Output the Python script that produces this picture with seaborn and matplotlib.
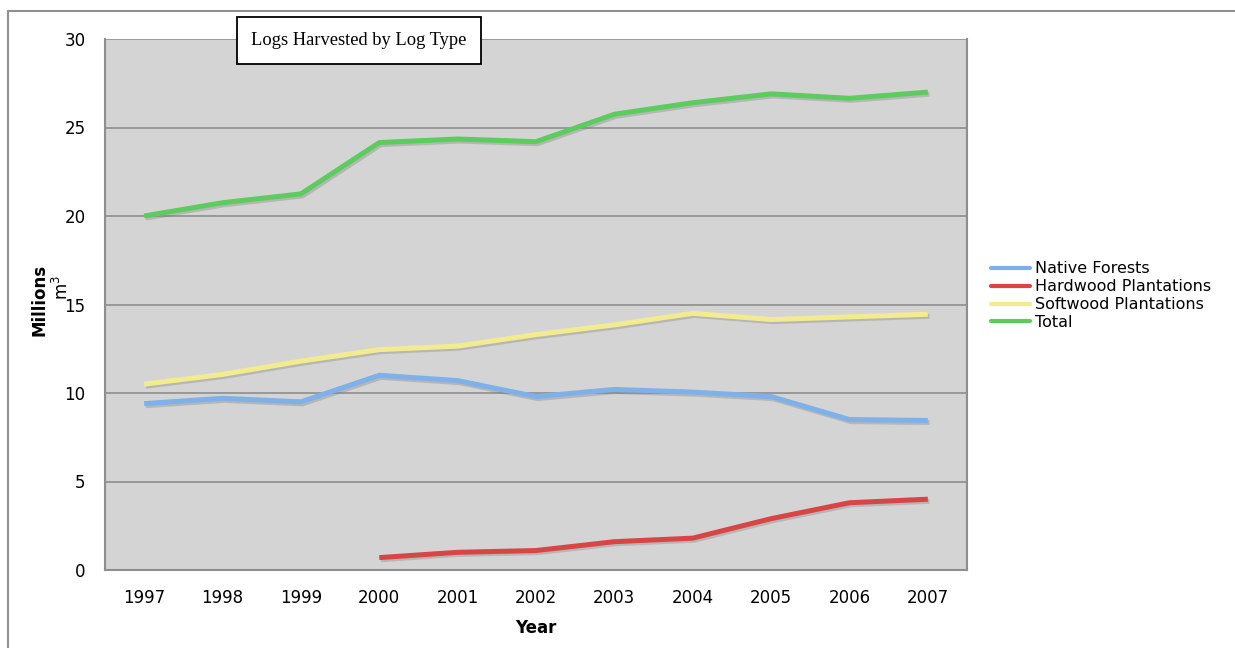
import numpy as np
import pandas as pd
import seaborn as sns
import matplotlib
matplotlib.use("Agg")
import matplotlib.pyplot as plt
import matplotlib.patheffects as pe
from matplotlib.lines import Line2D

years = [1997, 1998, 1999, 2000, 2001, 2002, 2003, 2004, 2005, 2006, 2007]
native_forests = [9.4, 9.7, 9.5, 11.0, 10.7, 9.8, 10.2, 10.05, 9.8, 8.5, 8.45]
hardwood_plantations = [np.nan, np.nan, np.nan, 0.7, 1.0, 1.1, 1.6, 1.8, 2.9, 3.8, 4.0]
softwood_plantations = [10.5, 11.05, 11.8, 12.45, 12.65, 13.3, 13.85, 14.5, 14.15, 14.3, 14.45]
total = [20.0, 20.75, 21.25, 24.15, 24.35, 24.2, 25.75, 26.4, 26.9, 26.65, 27.0]

series_names = ["Native Forests", "Hardwood Plantations", "Softwood Plantations", "Total"]
series_colors = ["#7eb0ea", "#d94444", "#f3ec8e", "#5ccc5e"]
y_ticks = [0, 5, 10, 15, 20, 25, 30]

df = pd.DataFrame({
    "Year": years * 4,
    "Value": native_forests + hardwood_plantations + softwood_plantations + total,
    "Series": sum([[n] * len(years) for n in series_names], []),
}).dropna()

sns.set_style("white")
plt.rcParams["font.family"] = ["DejaVu Sans"]
plt.rcParams["text.color"] = "black"
plt.rcParams["axes.labelcolor"] = "black"
plt.rcParams["xtick.labelcolor"] = "black"
plt.rcParams["ytick.labelcolor"] = "black"

fig = plt.figure(figsize=(12.35, 6.48), dpi=100)
ax = fig.add_axes([105 / 1235, 1 - 570 / 648, (967 - 105) / 1235, (570 - 39) / 648])
ax.set_facecolor("#d4d4d4")

sns.lineplot(data=df, x="Year", y="Value", hue="Series", hue_order=series_names,
             palette=series_colors, linewidth=3.6, ax=ax, legend=False, sort=True)
shadow = [pe.SimpleLineShadow(offset=(1.2, -1.5), shadow_color="#808080", alpha=0.35),
          pe.Normal()]
for ln in ax.get_lines():
    ln.set_path_effects(shadow)
    ln.set_solid_capstyle("butt")

ax.set_xlim(years[0] - 0.5, years[-1] + 0.5)
ax.set_ylim(0, 30)
ax.set_yticks(y_ticks)
ax.set_xticks(years)
ax.set_xticks([y - 0.5 for y in years] + [years[-1] + 0.5], minor=True)
ax.grid(axis="y", color="#8e8e8e", linewidth=1.2)
ax.grid(axis="x", visible=False)
ax.set_axisbelow(True)
ax.tick_params(axis="x", which="major", length=0, pad=14, labelsize=12)
ax.tick_params(axis="x", which="minor", length=5, color="#8e8e8e", direction="out")
ax.tick_params(axis="y", length=6, color="#8e8e8e", direction="out", labelsize=12, pad=8)
for side in ["left", "bottom", "right"]:
    ax.spines[side].set_visible(True)
    ax.spines[side].set_color("#8e8e8e")
    ax.spines[side].set_linewidth(1.5)
ax.spines["top"].set_visible(False)

ax.set_xlabel("Year", fontsize=12, fontweight="bold", labelpad=8)
ax.set_ylabel("")
fig.text(40 / 1235, 1 - 300 / 648, "Millions", rotation=90, fontsize=12,
         fontweight="bold", ha="center", va="center")
fig.text(62 / 1235, 1 - 288 / 648, "m$^3$", rotation=90, fontsize=12,
         ha="center", va="center")

fig.text(359 / 1235, 1 - 40.5 / 648, "Logs Harvested by Log Type",
         family="Liberation Serif", fontsize=13.3, ha="center", va="center",
         bbox=dict(boxstyle="square,pad=0.8", facecolor="white",
                   edgecolor="black", linewidth=1.3))

handles = [Line2D([], [], color=c, linewidth=3) for c in series_colors]
fig.legend(handles, series_names, loc="upper left",
           bbox_to_anchor=(985 / 1235, 1 - 255 / 648), frameon=False,
           fontsize=11.5, handlelength=2.4, handletextpad=0.3, labelspacing=0.18,
           borderaxespad=0)

# thin frame along the top and left edges of the canvas
fig.add_artist(Line2D([8 / 1235, 1], [1 - 11 / 648, 1 - 11 / 648],
                      transform=fig.transFigure, color="#909090", linewidth=1.5))
fig.add_artist(Line2D([8 / 1235, 8 / 1235], [0, 1 - 11 / 648],
                      transform=fig.transFigure, color="#909090", linewidth=1.5))

fig.savefig("out.png", dpi=100)
